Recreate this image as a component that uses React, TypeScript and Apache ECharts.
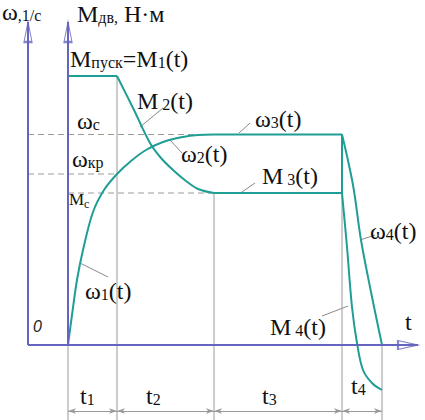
import React, { useEffect, useRef } from "react";
import * as echarts from "echarts";

// ---- scale (data units) ----
const X_MIN = -4;
const X_MAX = 35;
const Y_MIN = -7.5;
const Y_MAX = 34.5;
const AXIS_TOP = 32.3;
const DIM_LEVEL = -6.6;

// ---- phase boundaries t0..t4 ----
const PHASE_T = [0, 4.9, 14.6, 27.4, 31.4];

// ---- characteristic levels ----
const M_START = 26.9;
const OMEGA_C = 21.05;
const OMEGA_KR = 17.1;
const M_C = 15.2;

// ---- torque curve M(t) ----
const M2_T = [4.9, 6.6, 8.2, 9.3, 10.5, 11.8, 13.0, 14.6];
const M2_V = [26.9, 23.5, 20.2, 18.7, 17.5, 16.4, 15.6, 15.2];
const M4_T = [27.4, 27.9, 28.4, 28.9, 29.5, 30.4, 31.4];
const M4_V = [15.2, 9.8, 3.8, 0.2, -2.5, -3.8, -4.5];

// ---- speed curve ω(t) ----
const W12_T = [0, 0.4, 0.9, 1.5, 2.5, 3.6, 4.9, 6.3, 7.8, 9.5, 11.5, 13.0, 14.6];
const W12_V = [0, 3.0, 6.5, 9.5, 13.3, 15.5, 17.1, 18.4, 19.5, 20.3, 20.8, 21.0, 21.05];
const W4_T = [27.4, 28.5, 29.3, 30.3, 31.4];
const W4_V = [21.05, 16.0, 10.5, 5.3, 0];

// ---- labels (rich text) ----
const LABELS: [string, number, number][] = [
  ["{b|ω}{s|,1/с}", 2, 12],
  ["{b|M}{s|дв,}{b| Н·м}", 77, 14],
  ["{b|M}{s|пуск}{b|=M}{s|1}{b|(t)}", 70, 59],
  ["{b|M}{s| 2}{b|(t)}", 137, 101],
  ["{b|ω}{s|с}", 77, 121],
  ["{b|ω}{s|кр}", 72, 159],
  ["{sb|M}{ss|с}", 69, 199],
  ["{b|ω}{s|2}{b|(t)}", 181, 154],
  ["{b|ω}{s|3}{b|(t)}", 255, 119],
  ["{b|M}{s| 3}{b|(t)}", 262, 176],
  ["{b|ω}{s|4}{b|(t)}", 370, 231],
  ["{b|ω}{s|1}{b|(t)}", 85, 291],
  ["{b|M}{s| 4}{b|(t)}", 270, 327],
  ["{b|t}", 405, 322],
  ["{b|t}{s|1}", 80, 396],
  ["{b|t}{s|2}", 146, 396],
  ["{b|t}{s|3}", 262, 396],
  ["{b|t}{s|4}", 351, 386],
];

const TEAL = "#1f9e95";
const AXIS = "#6565bd";
const GRAY = "#9a9a9a";
const FAMILY = "Liberation Serif";

const zip = (a: number[], b: number[]) => a.map((x, i) => [x, b[i]]);

const lineSeries = (data: number[][], color: string, width: number, extra: any = {}) => ({
  type: "line",
  data,
  symbol: "none",
  silent: true,
  clip: false,
  lineStyle: { color, width, ...(extra.lineStyle || {}) },
  z: extra.z ?? 3,
  smooth: extra.smooth ?? false,
});

const tok = (size: number, lh: number, sub: boolean) => ({
  fontFamily: FAMILY,
  fontSize: size,
  fontWeight: "normal",
  color: "#111",
  lineHeight: lh,
  ...(sub ? { verticalAlign: "bottom", padding: [0, 0, 3, 0] } : {}),
});

const RICH = {
  b: tok(24, 28, false),
  s: tok(16, 16, true),
  sb: tok(17, 28, false),
  ss: tok(12, 12, true),
};

const leader = (x1: number, y1: number, x2: number, y2: number) => ({
  type: "line",
  silent: true,
  shape: { x1, y1, x2, y2 },
  style: { stroke: "#8a8a8a", lineWidth: 1 },
});

function buildOption() {
  const tops = [0, M_START, M_C, OMEGA_C, 0];
  const series: any[] = [];

  PHASE_T.forEach((t, i) => {
    series.push(lineSeries([[t, tops[i]], [t, Y_MIN]], GRAY, 1, { z: 1 }));
  });
  const dash = { lineStyle: { type: [6, 4] }, z: 1 };
  series.push(lineSeries([[X_MIN, OMEGA_C], [PHASE_T[2], OMEGA_C]], GRAY, 1, dash));
  series.push(lineSeries([[X_MIN, OMEGA_KR], [PHASE_T[1], OMEGA_KR]], GRAY, 1, dash));
  series.push(lineSeries([[PHASE_T[0], M_C], [PHASE_T[2], M_C]], GRAY, 1, dash));

  series.push(lineSeries([[X_MIN, 0], [X_MIN, AXIS_TOP]], AXIS, 2, { z: 5 }));
  series.push(lineSeries([[0, 0], [0, AXIS_TOP]], AXIS, 2, { z: 5 }));
  series.push(lineSeries([[X_MIN, 0], [X_MAX, 0]], AXIS, 2, { z: 5 }));
  series.push({
    type: "scatter",
    silent: true,
    clip: false,
    z: 4,
    symbol: "triangle",
    data: [
      { value: [X_MIN, AXIS_TOP - 1], symbolSize: [8, 20] },
      { value: [0, AXIS_TOP - 1], symbolSize: [8, 20] },
      { value: [X_MAX - 1, 0], symbolSize: [9, 20], symbolRotate: -90 },
    ],
    itemStyle: { color: "#fff", borderColor: AXIS, borderWidth: 1.5 },
  });

  series.push(lineSeries([[PHASE_T[0], M_START], [PHASE_T[1], M_START]], TEAL, 2));
  series.push(lineSeries(zip(M2_T, M2_V), TEAL, 2, { smooth: 0.35 }));
  series.push(lineSeries([[PHASE_T[2], M_C], [PHASE_T[3], M_C]], TEAL, 2));
  series.push(lineSeries(zip(M4_T, M4_V), TEAL, 2, { smooth: 0.35 }));

  series.push(lineSeries(zip(W12_T, W12_V), TEAL, 2, { smooth: 0.35 }));
  series.push(lineSeries([[PHASE_T[2], OMEGA_C], [PHASE_T[3], OMEGA_C]], TEAL, 2));
  series.push(lineSeries([[PHASE_T[3], OMEGA_C], [PHASE_T[3], M_C]], TEAL, 2));
  series.push(lineSeries(zip(W4_T, W4_V), TEAL, 2, { smooth: 0.35 }));

  series.push({
    type: "line",
    data: [],
    silent: true,
    markLine: {
      silent: true,
      symbol: ["arrow", "arrow"],
      symbolSize: [4, 8],
      label: { show: false },
      lineStyle: { color: GRAY, width: 1, type: "solid" },
      itemStyle: { color: "#444" },
      data: PHASE_T.slice(0, 4).map((t, i) => [
        { coord: [t, DIM_LEVEL] },
        { coord: [PHASE_T[i + 1], DIM_LEVEL] },
      ]),
    },
  });

  const titles: any[] = LABELS.map(([text, x, yc]) => ({
    text,
    left: x,
    top: yc - 14,
    padding: 0,
    itemGap: 0,
    textStyle: {
      fontFamily: FAMILY,
      fontSize: 24,
      fontWeight: "normal",
      color: "#111",
      lineHeight: 28,
      rich: RICH,
    },
  }));
  titles.push({
    text: "0",
    left: 33,
    top: 318,
    padding: 0,
    textStyle: {
      fontFamily: "Liberation Sans",
      fontStyle: "italic",
      fontWeight: "normal",
      fontSize: 16,
      color: "#222",
    },
  });

  return {
    animation: false,
    title: titles,
    grid: { left: 28, right: 7, top: 0, bottom: 0 },
    xAxis: { type: "value", min: X_MIN, max: X_MAX, show: false },
    yAxis: { type: "value", min: Y_MIN, max: Y_MAX, show: false },
    series,
    graphic: [
      leader(163, 108, 140, 127),
      leader(182, 153, 170, 140),
      leader(250, 123, 239, 133),
      leader(255, 183, 242, 192),
      leader(375, 235, 360, 240),
      leader(108, 277, 80, 263),
      leader(322, 316, 348, 306),
    ],
  };
}

export default function App() {
  const ref = useRef<HTMLDivElement>(null);
  useEffect(() => {
    if (!ref.current) return;
    const chart = echarts.init(ref.current, null, { renderer: "svg" });
    chart.setOption(buildOption());
    let alive = true;
    const fonts: any = (document as any).fonts;
    if (fonts && fonts.load) {
      Promise.all([fonts.load("24px 'Liberation Serif'"), fonts.load("italic 16px 'Liberation Sans'")])
        .then(() => {
          if (alive) chart.setOption(buildOption(), true);
        })
        .catch(() => {});
    }
    return () => {
      alive = false;
      chart.dispose();
    };
  }, []);
  return (
    <div
      ref={ref}
      style={{
        position: "absolute",
        left: 0,
        top: 0,
        width: 425,
        height: 420,
        background: "#fff",
        fontFamily: "'Liberation Serif', serif",
      }}
    />
  );
}
